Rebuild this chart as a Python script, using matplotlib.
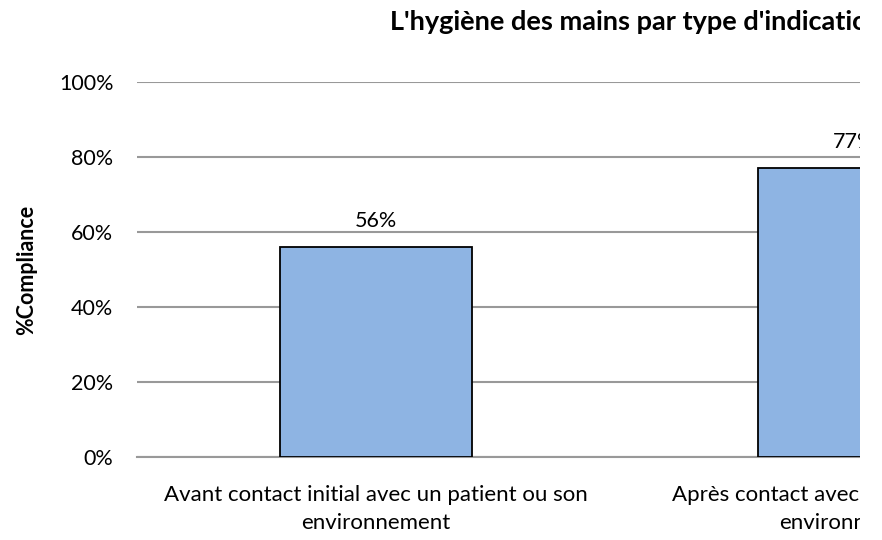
import matplotlib
matplotlib.use("Agg")
import matplotlib.pyplot as plt
from matplotlib.patches import Rectangle
from matplotlib.ticker import PercentFormatter

categories = ["Avant contact initial avec un patient ou son\nenvironnement",
              "Après contact avec un patient ou son\nenvironnement"]
values = [0.56, 0.77]
labels = ["56%", "77%"]
yticks = [0, 0.2, 0.4, 0.6, 0.8, 1.0]

plt.rcParams['font.family'] = ['Lato', 'DejaVu Sans']

W, H = 882, 540
fig = plt.figure(figsize=(W/100, H/100), dpi=100)
slot = 478
ax = fig.add_axes([137/W, 83/H, slot*len(categories)/W, 375/H])

x = list(range(len(categories)))
ax.bar(x, values, width=192/slot, color="#8EB4E3", edgecolor="black", linewidth=1.3, zorder=3)
for xi, v, l in zip(x, values, labels):
    ax.text(xi, v + 0.042, l, ha="center", va="bottom", fontsize=15.5, color="black")

ax.set_xlim(-0.5, len(categories) - 0.5)
ax.set_ylim(0, 1.0)
ax.set_yticks(yticks)
ax.yaxis.set_major_formatter(PercentFormatter(1.0, decimals=0))
ax.set_xticks(x)
ax.set_xticklabels(categories, fontsize=16, linespacing=1.5)
ax.tick_params(axis="both", length=0)
ax.tick_params(axis="y", pad=17, labelsize=15.5)
ax.tick_params(axis="x", pad=20)
ax.grid(axis="y", color="#999999", linewidth=1.5, zorder=0)
for s in ["left", "right", "top"]:
    ax.spines[s].set_visible(False)
ax.spines["bottom"].set_color("#999999")
ax.spines["bottom"].set_linewidth(1.5)
ax.set_ylabel("%Compliance", fontsize=15.5, fontweight="bold")
ax.yaxis.set_label_coords(-100/(slot*len(categories)), 0.5)

fig.text(390/W, 1 - 22/H, "L'hygiène des mains par type d'indication", ha="left", va="center",
         fontsize=19.5, fontweight="bold", zorder=1)

# white strip: the original chart is cropped at x=860
fig.add_artist(Rectangle((860/W, 0), (W-860)/W, 1, transform=fig.transFigure,
                         facecolor="white", edgecolor="none", zorder=20))

fig.savefig("out.png", dpi=100)
